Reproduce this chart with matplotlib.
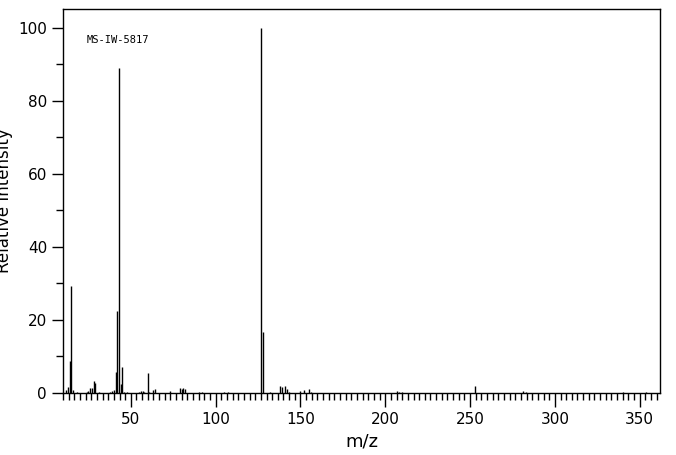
import matplotlib
matplotlib.use("Agg")
import matplotlib.pyplot as plt
from matplotlib.ticker import MultipleLocator

mz = [12, 13, 14, 15, 16, 18, 24, 25, 26, 27, 28, 29, 31, 38, 39, 40, 41, 42, 43, 44, 45, 46, 48,
      55, 56, 57, 58, 60, 61, 63, 64, 73, 79, 80, 81, 82, 90, 92, 105, 107,
      127, 128, 132, 138, 139, 141, 142, 143, 150, 152, 155, 156,
      207, 208, 210, 253, 281, 283, 340, 354]
intensity = [0.7, 1.7, 8.9, 29.4, 0.7, 0.4, 0.4, 0.6, 1.5, 1.5, 3.4, 2.8, 0.4, 0.3, 0.5, 0.9, 5.8, 22.4, 89.0, 2.5, 7.0, 0.4, 0.3,
             0.4, 0.5, 0.5, 0.4, 5.6, 0.4, 0.8, 1.2, 0.6, 1.3, 1.0, 1.3, 1.1, 0.3, 0.3, 0.3, 0.3,
             100.0, 16.7, 0.4, 1.9, 1.6, 1.9, 1.2, 0.4, 0.5, 0.8, 1.1, 0.4,
             0.6, 0.4, 0.3, 2.0, 0.6, 0.3, 0.3, 0.3]

fig = plt.figure(figsize=(6.76, 4.55), dpi=100)
ax = fig.add_axes([63/676, 1-393/455, (660-63)/676, (393-9)/455])
ax.vlines(mz, 0, intensity, colors="black", linewidth=1)
ax.set_xlim(10, 362)
ax.set_ylim(0, 105.2)
ax.xaxis.set_major_locator(MultipleLocator(50))
ax.xaxis.set_minor_locator(MultipleLocator(10/3))
ax.yaxis.set_major_locator(MultipleLocator(20))
ax.yaxis.set_minor_locator(MultipleLocator(10))
ax.tick_params(axis="x", which="major", direction="out", length=10, width=1, labelsize=11)
ax.tick_params(axis="x", which="minor", direction="out", length=5, width=1)
ax.tick_params(axis="y", which="major", direction="out", length=8, width=1, labelsize=11)
ax.tick_params(axis="y", which="minor", direction="out", length=5, width=1)
for s in ax.spines.values():
    s.set_linewidth(1)
ax.set_xlabel("m/z", fontsize=13)
ax.set_ylabel("Relative Intensity", fontsize=12)
ax.yaxis.set_label_coords(-0.083, 0.5)
ax.text(24, 96, "MS-IW-5817", fontsize=7.5, family="DejaVu Sans Mono")
fig.savefig("out.png", dpi=100)
